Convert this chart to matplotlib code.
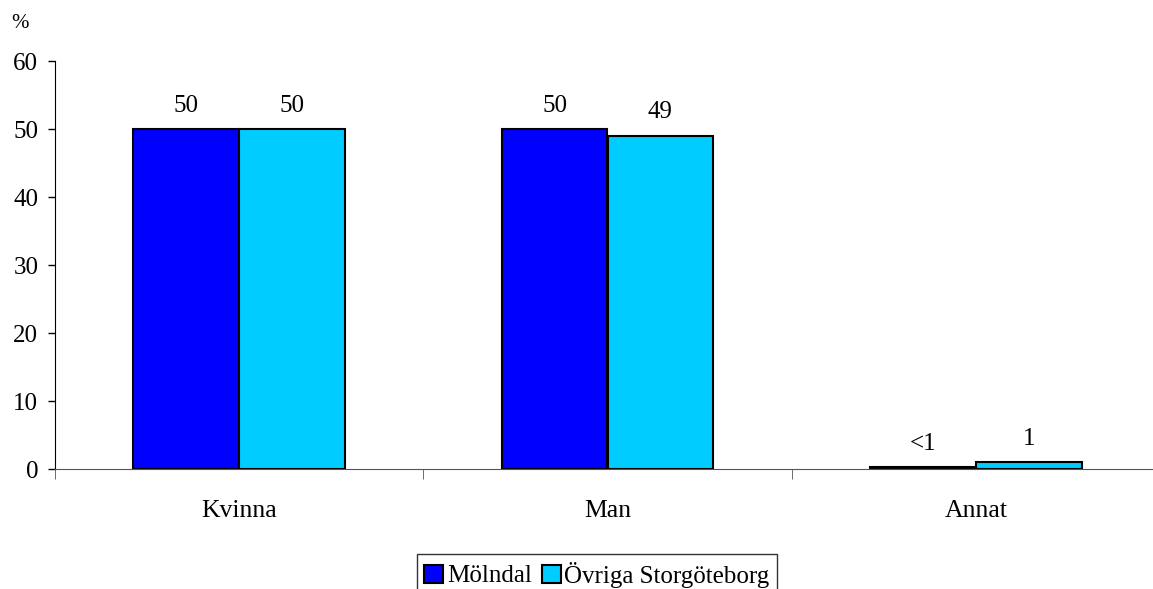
import numpy as np
import matplotlib.pyplot as plt
from matplotlib.ticker import FixedLocator

plt.rcParams['font.family'] = ['Liberation Serif', 'DejaVu Serif']

categories = ["Kvinna", "Man", "Annat"]
series = ["Mölndal", "Övriga Storgöteborg"]
molndal = [50, 50, 0.3]
ovriga = [50, 49, 1]
molndal_labels = ["50", "50", "<1"]
ovriga_labels = ["50", "49", "1"]
colors = ["#0000FF", "#00CCFF"]

fig = plt.figure(figsize=(11.53, 5.89), dpi=100)
ax = fig.add_axes([55 / 1153, 1 - 469.3 / 589, 1105 / 1153, (469.3 - 61) / 589])

x = np.arange(len(categories))
w = 0.287
b1 = ax.bar(x - w / 2, molndal, w, color=colors[0], edgecolor="black", linewidth=1.5, label=series[0])
b2 = ax.bar(x + w / 2, ovriga, w, color=colors[1], edgecolor="black", linewidth=1.5, label=series[1])

for bars, labs in ((b1, molndal_labels), (b2, ovriga_labels)):
    for rect, lab in zip(bars, labs):
        ax.annotate(lab, (rect.get_x() + rect.get_width() / 2, rect.get_height()),
                    xytext=(0, 9), textcoords="offset points",
                    ha="center", va="bottom", fontsize=18)

ax.set_xlim(-0.5, 2.5)
ax.set_ylim(0, 60)
ax.set_yticks(range(0, 61, 10))
ax.set_xticks(x)
ax.set_xticklabels(categories, fontsize=18.5)
ax.xaxis.set_minor_locator(FixedLocator([-0.5, 0.5, 1.5, 2.5]))
ax.tick_params(axis="x", which="major", length=0, pad=22)
ax.tick_params(axis="x", which="minor", length=7, direction="out", color="#555555")
ax.tick_params(axis="y", length=5, width=1, labelsize=18, pad=7)

for s in ("top", "right"):
    ax.spines[s].set_visible(False)
ax.spines["bottom"].set_color("#555555")
ax.spines["left"].set_color("black")

fig.text(11 / 1153, 1 - 23 / 589, "%", fontsize=15, va="center", ha="left")

leg = fig.legend(loc="upper center", bbox_to_anchor=(597 / 1153, 1 - 554 / 589), ncol=2,
                 fontsize=18, frameon=True, fancybox=False, edgecolor="black",
                 handlelength=0.75, handleheight=0.75, handletextpad=0.15,
                 columnspacing=0.4, borderpad=0.3, borderaxespad=0)
leg.get_frame().set_linewidth(1.0)

fig.savefig("out.png", dpi=100)
